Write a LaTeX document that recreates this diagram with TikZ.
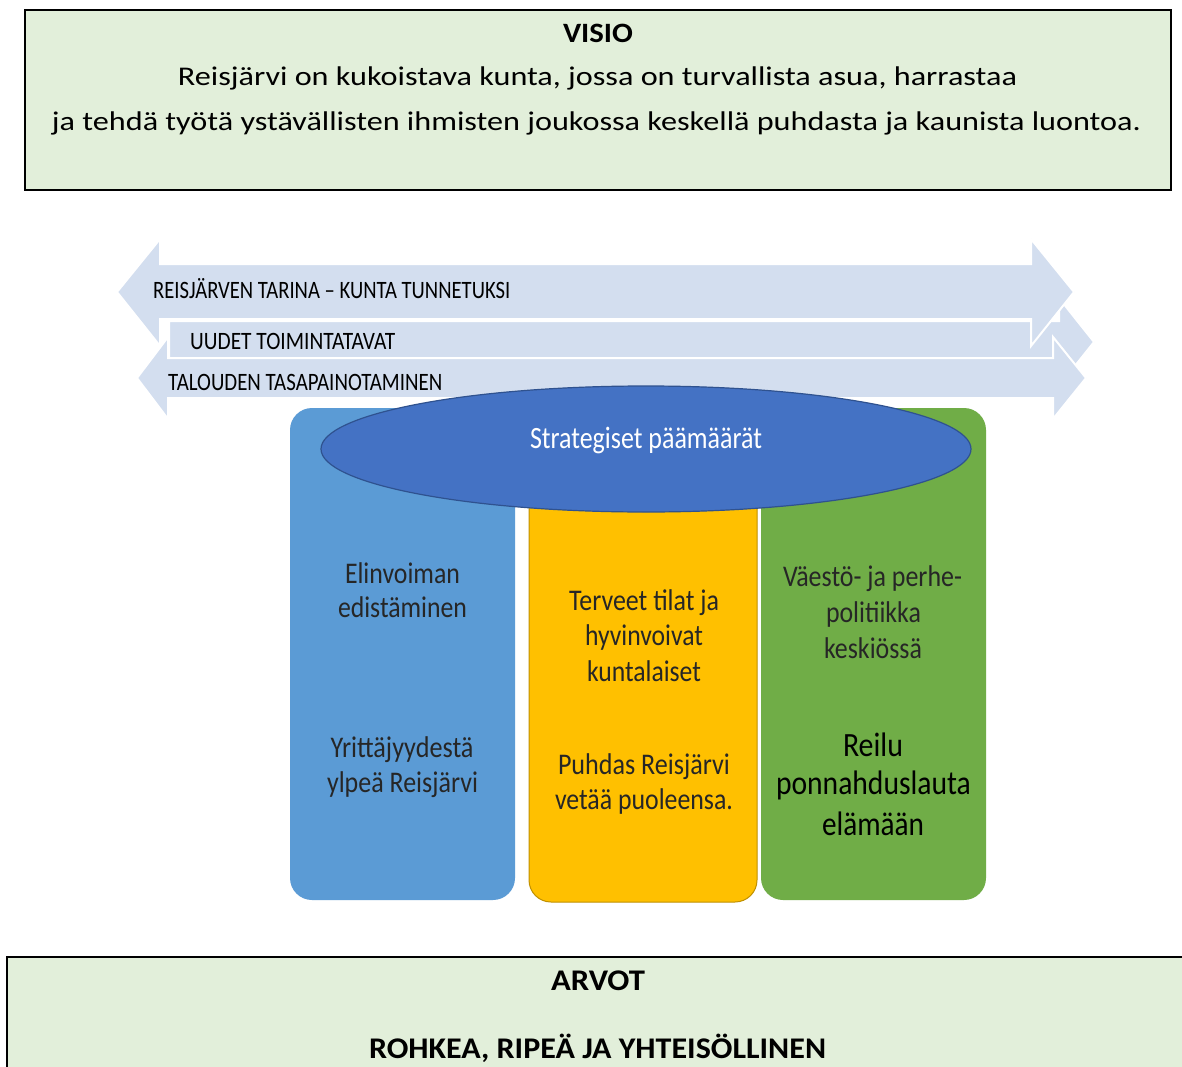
\documentclass[tikz,border=0pt]{standalone}
\usepackage{fontspec}
\usepackage{graphicx}
\usetikzlibrary{shapes.geometric}
\setmainfont{Carlito}
\definecolor{boxgreen}{HTML}{E2EFDA}
\definecolor{arrowblue}{HTML}{D3DEEF}
\definecolor{pblue}{HTML}{5B9BD5}
\definecolor{pyellow}{HTML}{FFC000}
\definecolor{pyellowb}{HTML}{C09000}
\definecolor{pgreen}{HTML}{70AD47}
\definecolor{ellfill}{HTML}{4472C4}
\definecolor{elldraw}{HTML}{2F528F}
\definecolor{ptext}{HTML}{262626}
\newcommand\fw[2]{\resizebox{#1pt}{\height}{#2}}
\begin{document}
\begin{tikzpicture}[x=1pt,y=-1pt,
  txt/.style={inner sep=0pt,anchor=center},
  toptxt/.style={txt,font=\fontsize{27}{30}\selectfont,text=black},
  arrtxt/.style={inner sep=0pt,anchor=west,font=\fontsize{25}{28}\selectfont,text=black},
  pil/.style={txt,font=\fontsize{30}{34}\selectfont,text=ptext},
  bigpil/.style={txt,font=\fontsize{34}{38}\selectfont,text=black},
  arrowshape/.style={fill=arrowblue,draw=white,line width=2pt,line join=miter},
  pillar/.style={rounded corners=22pt}]
\useasboundingbox (0,0) rectangle (1182,1067);
\clip (0,0) rectangle (1182,1067);
\fill[white] (0,0) rectangle (1182,1067);
% VISIO box
\draw[fill=boxgreen,line width=2pt] (25,10) rectangle (1171,190);
\node[toptxt,font=\fontsize{28}{30}\selectfont\bfseries] (visio) at (598,33) {\fw{70}{VISIO}};
\node[toptxt] (v1) at (597.5,78) {\fw{839}{Reisjärvi on kukoistava kunta, jossa on turvallista asua, harrastaa}};
\node[toptxt] (v2) at (596.5,123) {\fw{1089}{ja tehdä työtä ystävällisten ihmisten joukossa keskellä puhdasta ja kaunista luontoa.}};
% arrows
\path[arrowshape] (169,321) -- (1059,321) -- (1059,298) -- (1094,342) -- (1059,386) -- (1059,360) -- (169,360) -- cycle;
\path[arrowshape] (117,292) -- (160,239) -- (160,264) -- (1031,264) -- (1031,239) -- (1074,292) -- (1031,346) -- (1031,319) -- (160,319) -- (160,346) -- cycle;
\path[arrowshape] (137,378) -- (168,337) -- (168,358) -- (1053,358) -- (1053,337) -- (1086,378) -- (1053,419) -- (1053,398) -- (168,398) -- (168,419) -- cycle;
\node[arrtxt] (a1) at (153,289) {\fw{357}{REISJÄRVEN TARINA – KUNTA TUNNETUKSI}};
\node[arrtxt] (a2) at (190,341) {\fw{205}{UUDET TOIMINTATAVAT}};
\node[arrtxt] (a3) at (168,382) {\fw{274}{TALOUDEN TASAPAINOTAMINEN}};
% pillars
\fill[pblue,pillar] (290,408) rectangle (515,900);
\draw[fill=pyellow,draw=pyellowb,line width=1pt,pillar] (529,470) rectangle (757,902);
\fill[pgreen,pillar] (761,408) rectangle (986,900);
% ellipse
\node[draw=elldraw,fill=ellfill,line width=1.2pt,ellipse,inner sep=0pt,minimum width=650pt,minimum height=126pt] (ell) at (646,449) {};
\node[txt,font=\fontsize{31}{34}\selectfont,text=white] (strat) at (646,440) {\fw{232}{Strategiset päämäärät}};
% blue text
\node[pil] (b1) at (402.5,573) {\fw{115}{Elinvoiman}};
\node[pil] (b2) at (402.5,607) {\fw{129}{edistäminen}};
\node[pil] (b3) at (402,750) {\fw{143}{Yrittäjyydestä}};
\node[pil] (b4) at (402.5,785) {\fw{151}{ylpeä Reisjärvi}};
% yellow text
\node[pil] (y1) at (644,603) {\fw{150}{Terveet tilat ja}};
\node[pil] (y2) at (644,637) {\fw{118}{hyvinvoivat}};
\node[pil] (y3) at (644,671) {\fw{114}{kuntalaiset}};
\node[pil] (y4) at (644,767) {\fw{172}{Puhdas Reisjärvi}};
\node[pil] (y5) at (644,801) {\fw{178}{vetää puoleensa.}};
% green text
\node[pil] (g1) at (872.5,579) {\fw{179}{Väestö- ja perhe-}};
\node[pil] (g2) at (873.5,614) {\fw{95}{politiikka}};
\node[pil] (g3) at (873,648) {\fw{98}{keskiössä}};
\node[bigpil] (g4) at (873,745) {\fw{60}{Reilu}};
\node[bigpil] (g5) at (873.5,785) {\fw{195}{ponnahduslauta}};
\node[bigpil] (g6) at (873,824) {\fw{102}{elämään}};
% ARVOT box
\draw[fill=boxgreen,line width=2pt] (7,957) rectangle (1195,1080);
\node[toptxt,font=\fontsize{30}{32}\selectfont\bfseries] (arvot) at (598,981) {\fw{94}{ARVOT}};
\node[toptxt,font=\fontsize{30}{32}\selectfont\bfseries] (arvot2) at (597.5,1048) {\fw{457}{ROHKEA, RIPEÄ JA YHTEISÖLLINEN}};
\end{tikzpicture}
\end{document}
